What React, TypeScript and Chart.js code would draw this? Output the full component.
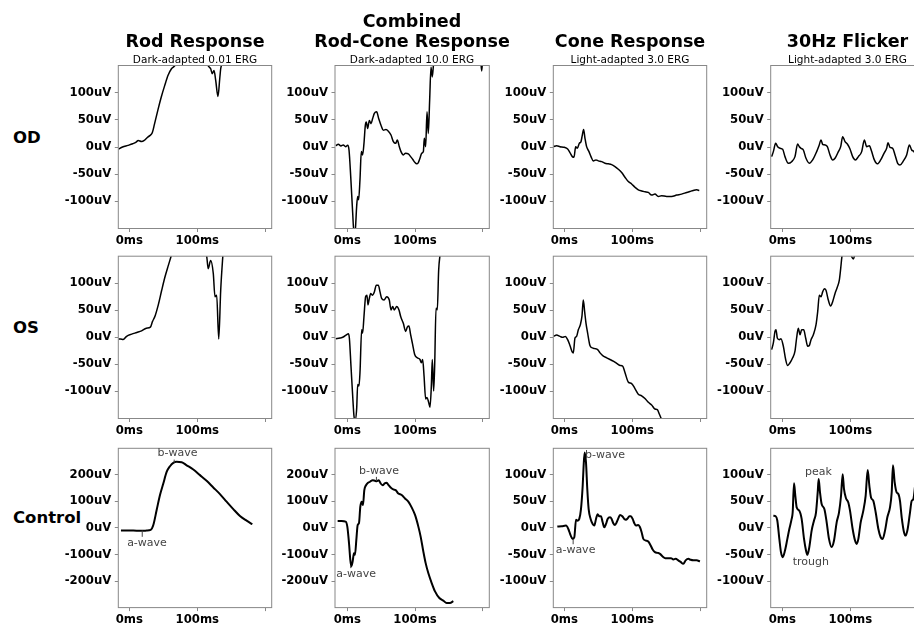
import React, { useEffect, useRef } from 'react';
import { Chart, registerables } from 'chart.js';

Chart.register(...registerables);

type Pt = [number, number];
type Note = { text: string; x: number; y: number; tx: number; ty: number };

// ---------- tick values & labels ----------
const msTicks = [0, 100, 200];
const msTickLabels = ['0ms', '100ms', ''];
const uvTicks150 = [-100, -50, 0, 50, 100];
const uvTicks300 = [-200, -100, 0, 100, 200];

// ---------- titles ----------
const columnTitles: string[][] = [['Rod Response'], ['Combined', 'Rod-Cone Response'], ['Cone Response'], ['30Hz Flicker']];
const columnSubtitles = ['Dark-adapted 0.01 ERG', 'Dark-adapted 10.0 ERG', 'Light-adapted 3.0 ERG', 'Light-adapted 3.0 ERG'];
const rowLabels = ['OD', 'OS', 'Control'];

// ---------- series: [ms, uV] ----------
const odRod: Pt[] = [[-16, -4], [-10, 0], [-2, 3], [5, 6], [10, 9], [13, 12], [18, 10], [22, 12], [27, 18], [32, 23], [34, 27], [37, 42], [42, 68], [47, 92], [52, 113], [57, 132], [62, 144], [67, 150], [72, 165], [85, 195], [100, 200], [110, 170], [115.7, 150], [119.7, 144], [122, 135], [124.6, 141], [127, 123], [130.4, 93], [133, 126], [134.4, 144], [136.3, 153], [145, 200], [170, 230], [200, 210]];
const osRod: Pt[] = [[-16, -3], [-13, -3], [-9, -4], [-4, 2], [3.5, 6], [11, 9], [18, 12], [25, 17], [31, 19], [34, 29], [38, 40], [42.6, 60], [47.6, 87], [52.5, 112], [57.4, 133], [61, 148], [65, 165], [80, 200], [100, 200], [110, 170], [114, 148], [116, 127], [119.6, 142], [123.5, 118], [126, 75], [128.5, 78], [131.5, -3], [134.4, 87], [137.4, 148], [140, 190], [160, 230], [200, 210]];
const odCombined: Pt[] = [[-17, 2.4], [-13.3, 5], [-9.4, 2], [-6, 3.7], [-2.5, 0.6], [0.5, 3], [2.5, -5.5], [5, -54], [7.9, -121], [9.8, -158], [11.8, -152], [13.8, -109], [15.3, -91], [16.7, -97], [18.7, -60], [20.7, -8.5], [22.6, -14.6], [24.6, 6.7], [26.6, 40], [28, 46], [30, 34], [32.5, 49], [35, 43], [37.4, 52.5], [39.9, 61.7], [43.3, 64.7], [46.3, 52.5], [49.7, 40], [53.2, 31], [57, 32], [60.6, 29], [64.5, 22], [68, 10], [71.4, 6.7], [73.8, 12.8], [76.8, 0.6], [79.3, -8.5], [82.7, -14.6], [86, -11.6], [90, -12.8], [93.5, -17.7], [96.5, -22.6], [100, -28.7], [102.4, -31], [104.9, -28.7], [107.3, -20.8], [109.8, -11.6], [112.3, -8.5], [113.7, 16], [115.7, 0.6], [117.7, 64.7], [119.6, 25], [121.6, 86], [123.6, 147], [125.5, 129], [127.5, 155], [135, 200], [160, 230], [190, 200], [197, 160], [198.5, 140], [200, 165], [205, 210]];
const osCombined: Pt[] = [[-17, -2.4], [-10.8, -1.2], [-6, 0.6], [-1, 5], [1.5, 6.7], [3, -1.2], [5.4, -53], [7.9, -108], [9.8, -145], [11.3, -154], [13.8, -132], [15.3, -87], [17.2, -90], [18.7, -65], [21.2, 14], [22.6, 8], [24.6, 38.5], [27, 75], [29, 78], [30.5, 60], [32.5, 72], [34.5, 81], [36.9, 78], [39.9, 84], [42.8, 96.5], [45.8, 96.5], [48.3, 84], [50.7, 72], [54.2, 69], [58.1, 75], [62, 69], [64.5, 50.7], [67, 57], [69.4, 50.7], [72.9, 57], [76.3, 50.7], [78.8, 38.5], [82.7, 26], [86.2, 11], [88.6, 19], [91, 21], [93.5, 5], [96.5, -13.4], [99.5, -31.7], [103.4, -37.8], [107.3, -41], [109.3, -47], [111.3, -41], [113.3, -71], [115.7, -114], [117.7, -111], [120.1, -120], [122.1, -129], [124.1, -90], [125.5, -41], [127.5, -99], [129, -53], [131, 54], [132.9, 51], [134.9, 124], [136.9, 152], [145, 220], [200, 260]];
const odCone: Pt[] = [[-16, 0.6], [-11.3, 2.4], [-6.4, 0.6], [0, -0.6], [4.9, -3.7], [8.3, -10.4], [11.8, -17.7], [14.2, -19], [16.7, 0.6], [19.1, -2.4], [22, 6.7], [24.5, 9.8], [26.5, 22], [28.4, 32], [30.4, 16], [32.8, 0.6], [36.3, -8.5], [39.2, -17.7], [42.6, -25.6], [46.6, -23.8], [50, -25.6], [54.9, -26.9], [59.8, -30], [64.7, -31], [69.6, -32.4], [74.5, -36], [79.4, -40.9], [84.3, -47], [89.2, -55.6], [94.1, -63.5], [99, -68], [103.9, -74], [108.8, -78.8], [113.7, -81], [118.6, -82.4], [123.5, -83.6], [128.4, -88.5], [133.3, -86.7], [138.2, -91], [143, -89.7], [150.5, -91], [157.8, -91], [165.2, -88.5], [172.5, -86.7], [180, -83.6], [184.8, -81.8], [189.7, -80], [194.6, -78.8], [198.5, -80]];
const osCone: Pt[] = [[-16, 1.8], [-11.3, 4.3], [-6.4, 1.8], [-2.5, 0], [1.5, 1.8], [4.9, -4.3], [8.3, -15], [11.8, -27.5], [13.2, -28.7], [15.7, -1.2], [18.1, 1.8], [20.6, 14], [23.5, 23], [26, 39.7], [27.9, 69], [29.9, 47.6], [31.9, 26], [34.3, 8], [37.7, -15], [41.2, -19.5], [45, -20.8], [49, -22.6], [52.5, -28.7], [57.4, -34.8], [62.3, -37.8], [67.2, -40.9], [72, -44], [77, -48.2], [81.9, -52], [85.8, -53], [89.2, -65], [94, -82.4], [99, -85.5], [103.9, -94.6], [108.8, -105], [113.7, -108], [118.6, -113], [123.5, -120], [128.4, -125], [133.3, -132.5], [136.8, -133.7], [139.7, -141.6], [141.7, -147.7], [143.6, -154], [160, -190], [200, -230]];
const odFlicker: Pt[] = [[-15.7, -17.7], [-13.2, -8.5], [-9.8, 6.7], [-6.9, 0.6], [-3.4, -2.4], [0.5, -4.3], [3.9, -17.7], [8.8, -30], [13.7, -27], [18.6, -17.7], [22.5, 5.5], [25, 0.6], [27.5, -2.4], [30.9, -5.5], [34.8, -20.8], [39.7, -30], [44.6, -23.8], [50.5, -8.5], [53.9, 2.4], [56.9, 12.8], [59.3, 4.9], [62.7, 3.7], [66.2, 0.6], [70.1, -14.6], [74, -23.8], [77.5, -20.8], [82.4, -8.5], [85.8, 0.6], [88.7, 19], [92.2, 9.8], [95.6, 5.5], [99.5, -3.7], [103.4, -17.7], [107.4, -23.8], [111.8, -17.7], [116.7, -8.5], [120.6, 12.8], [124, 0.6], [128, 2.4], [131.4, -8.5], [135.3, -23.8], [139.7, -31], [144.6, -23.8], [149.5, -11.6], [153.4, -2.4], [155.4, 8], [158.3, -0.6], [162.3, -2.4], [165.7, -14.6], [169.6, -30], [173, -33], [178, -25.6], [182.8, -14.6], [186.8, 3.7], [190.2, -5.5], [193.6, -8.5], [198, -22], [205, -30], [210, -20]];
const osFlicker: Pt[] = [[-15.7, -22.6], [-13.2, -10.4], [-10.8, 11], [-9.3, 14], [-7.4, -1.2], [-4.4, -4.3], [-2, -2.4], [1.5, -16.5], [4.9, -41], [7.8, -52], [11.3, -47], [15.2, -37.8], [18.6, -25.6], [21, -1.2], [23.5, 17], [26, 4.9], [28.4, 14], [31.4, 14], [34.3, -1.2], [37.3, -16.5], [39.7, -15], [42.2, -4.3], [45.6, 4.9], [49.5, 23], [52, 47.6], [54.4, 78], [56.9, 75], [59.3, 84], [61.8, 90], [64.2, 87], [67.6, 69], [71, 58], [74, 66], [77.5, 81], [80.9, 93], [83.8, 105.6], [85.8, 127], [87.7, 150], [92, 175], [99, 160], [102, 149], [104.4, 145], [107, 155], [115, 190], [150, 240], [210, 260]];
const controlRod: Pt[] = [[-12.3, -10], [-3.9, -10], [5.9, -10], [15.7, -11], [25.5, -10], [31.4, -7.5], [35.3, 11], [40.2, 67.5], [45.1, 124], [50, 167.5], [54.9, 211], [59.8, 232.5], [64.7, 245], [69.6, 249], [77, 247.5], [84.3, 236], [94.1, 220], [103.9, 199], [113.7, 177.5], [123.5, 152.5], [133.3, 127.5], [143.1, 99], [152.9, 71], [162.7, 45], [172.5, 27.5], [180.9, 14]];
const controlCombined: Pt[] = [[-14.3, 26], [-8.4, 26], [-2.5, 24], [0, 5], [2.5, -57.5], [4.4, -120], [5.9, -145], [7.9, -126], [9.8, -95], [11.3, -101], [13.3, -45], [15.3, 11], [17.2, 17.5], [19.2, 80], [21.2, 99], [23.1, 86], [25.1, 142.5], [27.6, 161], [30.5, 170], [33.5, 174], [37.4, 180], [40.9, 177.5], [43.3, 176], [46.3, 180], [49.2, 167.5], [52.2, 161], [55.1, 167.5], [58.1, 170], [61, 161], [64, 152.5], [67.9, 145], [71.4, 142.5], [75.3, 130], [80.3, 124], [85.2, 111], [90.1, 99], [95, 77.5], [100, 49], [104.9, 5], [108.3, -32.5], [112.3, -89], [115.7, -132.5], [119.6, -170], [124.6, -207.5], [129.5, -239], [135.9, -264], [141.8, -274], [146.7, -282.5], [151.6, -282.5], [156.6, -276]];
const controlCone: Pt[] = [[-10.3, 2.5], [-3.9, 3], [2.5, 4.4], [5.9, -2], [9.3, -14], [12.3, -20.6], [14.7, -17.5], [17.2, 15.6], [19.6, 13.75], [22, 17], [24.5, 35.6], [27, 79], [28.4, 117], [29.9, 142], [31.9, 123], [33.8, 73], [35.8, 35.6], [38.7, 17], [41.7, 7.5], [44.1, 4.4], [46.6, 17], [49, 26], [51.5, 22], [53.9, 22], [56.4, 10.6], [58.8, 1.2], [61.3, 7.5], [63.7, 17], [67.2, 20], [69.6, 17], [72, 8.75], [74.5, 5.6], [77, 10.6], [79.4, 18], [81.9, 24.4], [85.3, 22], [88.2, 17], [90.7, 15.6], [93.1, 18], [95.6, 22], [98, 22], [100.5, 17], [103, 8.75], [105.4, 4.4], [108.8, 5.6], [111.3, 1.25], [113.7, -8], [116.2, -20.6], [120.1, -23.75], [123.5, -25.6], [127, -33], [129.9, -40.6], [133.3, -45.6], [137.3, -47], [140.7, -48.75], [144.6, -53.75], [148.5, -57], [153, -57], [156.9, -57], [160.3, -59.4], [163.7, -58], [167.6, -61], [171, -64], [175, -67.5], [178.4, -61], [182.4, -58], [185.8, -60], [189.7, -61], [194.6, -61], [199.5, -63]];
const controlFlicker: Pt[] = [[-13.2, 23], [-9.8, 22], [-7.4, 14], [-4.4, -20.6], [-2, -45.6], [0.5, -55], [3.9, -42.5], [7.4, -20.6], [10.3, -2], [13.7, 17], [15.2, 29], [17.2, 84], [19.1, 60.6], [21.1, 38.75], [25, 32.5], [28.4, 17], [31.9, -20.6], [34.8, -42.5], [36.8, -50.6], [39.7, -36], [43.1, -5], [46.6, 14], [49.5, 29], [52, 67], [53.4, 92], [55.4, 67], [57.8, 45], [61.8, 35.6], [65.2, 10.6], [68.6, -20.6], [72.5, -36], [76, -23.75], [79.9, 10.6], [83.3, 29], [86.3, 60.6], [88.7, 101], [90.7, 73], [93.6, 56], [97, 48], [99.5, 32.5], [103.4, -2], [106.9, -23.75], [109.3, -30], [111.8, -20.6], [115.2, 10.6], [119.1, 32.5], [122.5, 60.6], [125.5, 109], [128, 79], [130.4, 57.5], [133.8, 51], [137.3, 29], [141.2, -2], [144.6, -17.5], [147.5, -20.6], [151, -5], [154.4, 20], [158.3, 38.75], [160.8, 67], [162.7, 118], [165.2, 86], [168.1, 67], [170.6, 64], [173, 51], [175.5, 20], [178.9, -8], [181.4, -14.4], [184.3, -2], [187.7, 29], [190.2, 51], [192.6, 54], [196, 90], [198, 115]];

// ---------- annotations (data units) ----------
const controlRodNotes: Note[] = [
  { text: 'b-wave', x: 66, y: 246, tx: 71, ty: 280 },
  { text: 'a-wave', x: 19, y: -10, tx: 26, ty: -56 },
];
const controlCombinedNotes: Note[] = [
  { text: 'b-wave', x: 43, y: 177, tx: 46.8, ty: 215 },
  { text: 'a-wave', x: 5, y: -143, tx: 13, ty: -174 },
];
const controlConeNotes: Note[] = [
  { text: 'b-wave', x: 30, y: 142, tx: 59.8, ty: 136.5 },
  { text: 'a-wave', x: 13, y: -21, tx: 16.5, ty: -42 },
];
const controlFlickerNotes: Note[] = [
  { text: 'peak', x: 53.4, y: 92, tx: 53.2, ty: 104.5 },
  { text: 'trough', x: 36.8, y: -50.6, tx: 41.9, ty: -64 },
];

// ---------- axis limits ----------
const xLimits: Pt[] = [[-16.2, 209.4], [-18.2, 209.7], [-16.2, 209.4], [-17.1, 208.6]];
const controlYLimits: Pt[] = [[-300, 300], [-300, 300], [-150, 150], [-150, 150]];

// ---------- layout ----------
const colLeft = [118.3, 335, 553.3, 770.7];
const colWidth = [153.4, 154.3, 153.4, 153.5];
const rowTop = [65.5, 256.2, 448.3];
const rowHeight = [163, 162.3, 159.3];
const rowLabelTop = [129.5, 319.5, 510];
const Y_AXIS = 64;
const X_AXIS = 22;

type PanelDef = { row: number; col: number; data: Pt[]; notes?: Note[] };
const panels: PanelDef[] = [
  { row: 0, col: 0, data: odRod },
  { row: 0, col: 1, data: odCombined },
  { row: 0, col: 2, data: odCone },
  { row: 0, col: 3, data: odFlicker },
  { row: 1, col: 0, data: osRod },
  { row: 1, col: 1, data: osCombined },
  { row: 1, col: 2, data: osCone },
  { row: 1, col: 3, data: osFlicker },
  { row: 2, col: 0, data: controlRod, notes: controlRodNotes },
  { row: 2, col: 1, data: controlCombined, notes: controlCombinedNotes },
  { row: 2, col: 2, data: controlCone, notes: controlConeNotes },
  { row: 2, col: 3, data: controlFlicker, notes: controlFlickerNotes },
];

const FONT = 'DejaVu Sans';
const SPINE = '#888';

const framePlugin = {
  id: 'frame',
  afterDatasetsDraw(chart: any) {
    const { ctx, chartArea } = chart;
    ctx.save();
    ctx.strokeStyle = SPINE;
    ctx.lineWidth = 1;
    ctx.strokeRect(chartArea.left, chartArea.top, chartArea.right - chartArea.left, chartArea.bottom - chartArea.top);
    ctx.restore();
  },
};

function makeNotesPlugin(notes: Note[]) {
  return {
    id: 'ergNotes',
    afterDraw(chart: any) {
      const { ctx } = chart;
      const xs = chart.scales.x;
      const ys = chart.scales.y;
      ctx.save();
      ctx.font = `11px "${FONT}"`;
      ctx.fillStyle = '#444';
      ctx.strokeStyle = '#444';
      ctx.lineWidth = 1;
      ctx.textAlign = 'center';
      ctx.textBaseline = 'middle';
      for (const n of notes) {
        const px = xs.getPixelForValue(n.x);
        const py = ys.getPixelForValue(n.y);
        const tx = xs.getPixelForValue(n.tx);
        const ty = ys.getPixelForValue(n.ty);
        const half = 6;
        const edge = ty < py ? ty + half : ty - half;
        if ((ty < py && edge < py - 1) || (ty > py && edge > py + 1)) {
          ctx.beginPath();
          ctx.moveTo(px, py);
          ctx.lineTo(px, edge);
          ctx.stroke();
        }
        ctx.fillText(n.text, tx, ty);
      }
      ctx.restore();
    },
  };
}

function Panel({ p }: { p: PanelDef }) {
  const ref = useRef<HTMLCanvasElement>(null);
  const { row, col } = p;
  const canvasLeft = Math.floor(colLeft[col] - Y_AXIS);
  const yAxisW = colLeft[col] - canvasLeft;
  const canvasTop = row === 0 ? 0 : Math.floor(rowTop[row] - 14);
  const topOff = rowTop[row] - canvasTop;
  // symmetric canvas (blank right axis as wide as the left one) so titles centre over the plot
  const W = Math.round(2 * yAxisW + colWidth[col]);
  const rightW = W - yAxisW - colWidth[col];
  const H = Math.ceil(topOff + rowHeight[row] + X_AXIS + 1);
  const padBottom = H - (topOff + rowHeight[row] + X_AXIS);

  useEffect(() => {
    if (!ref.current) return;
    const yLim: Pt = row === 2 ? controlYLimits[col] : [-150, 150];
    const yTicks = yLim[1] > 200 ? uvTicks300 : uvTicks150;
    const tickFont = { family: FONT, weight: 'bold' as const, size: 11.7 };
    const gridOpts = { display: true, drawOnChartArea: false, drawTicks: true, tickLength: 3.5, color: SPINE };
    const nTitle = columnTitles[col].length;
    const subBox = 2.7 + 10.5;
    const titlePadTop = topOff - subBox - nTitle * 20;
    const chart = new Chart(ref.current, {
      type: 'line',
      data: {
        datasets: [
          {
            data: p.data.map(([x, y]) => ({ x, y })),
            borderColor: '#000',
            borderWidth: row === 2 ? 2 : 1.5,
            pointRadius: 0,
            cubicInterpolationMode: 'monotone',
            fill: false,
          },
        ],
      },
      options: {
        animation: false,
        responsive: false,
        events: [],
        layout: { padding: { top: row === 0 ? 0 : topOff, right: 0, bottom: padBottom, left: 0 } },
        plugins: {
          legend: { display: false },
          tooltip: { enabled: false },
          title:
            row === 0
              ? {
                  display: true,
                  text: columnTitles[col],
                  fullSize: true,
                  color: '#000',
                  font: { family: FONT, size: 17.5, weight: 'bold', lineHeight: 20 / 17.5 },
                  padding: { top: titlePadTop, bottom: 0 },
                }
              : { display: false },
          subtitle:
            row === 0
              ? {
                  display: true,
                  text: columnSubtitles[col],
                  fullSize: true,
                  color: '#000',
                  font: { family: FONT, size: 10.5, weight: 'normal', lineHeight: 1 },
                  padding: { top: 2.7, bottom: 0 },
                }
              : { display: false },
        },
        scales: {
          x: {
            type: 'linear',
            min: xLimits[col][0],
            max: xLimits[col][1],
            afterBuildTicks: (s: any) => {
              s.ticks = msTicks.map((v) => ({ value: v }));
            },
            afterFit: (s: any) => {
              s.height = X_AXIS;
            },
            ticks: {
              autoSkip: false,
              maxRotation: 0,
              padding: 2,
              color: '#000',
              font: tickFont,
              callback: (_v: any, i: number) => msTickLabels[i],
            },
            grid: gridOpts,
            border: { display: false },
          },
          y: {
            type: 'linear',
            position: 'left',
            min: yLim[0],
            max: yLim[1],
            afterBuildTicks: (s: any) => {
              s.ticks = yTicks.map((v) => ({ value: v }));
            },
            afterFit: (s: any) => {
              s.width = yAxisW;
            },
            ticks: {
              autoSkip: false,
              padding: 3.5,
              color: '#000',
              font: tickFont,
              callback: (v: any) => `${v}uV`,
            },
            grid: gridOpts,
            border: { display: false },
          },
          blankRight: {
            type: 'linear',
            position: 'right',
            display: true,
            afterFit: (s: any) => {
              s.width = rightW;
            },
            ticks: { display: false },
            grid: { display: false },
            border: { display: false },
          },
        },
      } as any,
      plugins: [framePlugin, makeNotesPlugin(p.notes || [])],
    });
    return () => chart.destroy();
  }, []);

  return (
    <canvas
      ref={ref}
      width={W}
      height={H}
      style={{ position: 'absolute', left: canvasLeft, top: canvasTop, width: W, height: H }}
    />
  );
}

export default function App() {
  return (
    <div
      style={{
        position: 'absolute',
        left: 0,
        top: 0,
        width: 914,
        height: 623,
        overflow: 'hidden',
        background: '#fff',
      }}
    >
      {rowLabels.map((t, i) => (
        <div
          key={t}
          style={{
            position: 'absolute',
            left: 13,
            top: rowLabelTop[i],
            fontFamily: FONT,
            fontWeight: 'bold',
            fontSize: 16.5,
            lineHeight: '16.5px',
            color: '#000',
            whiteSpace: 'nowrap',
          }}
        >
          {t}
        </div>
      ))}
      {panels.map((p) => (
        <Panel key={`${p.row}-${p.col}`} p={p} />
      ))}
    </div>
  );
}
